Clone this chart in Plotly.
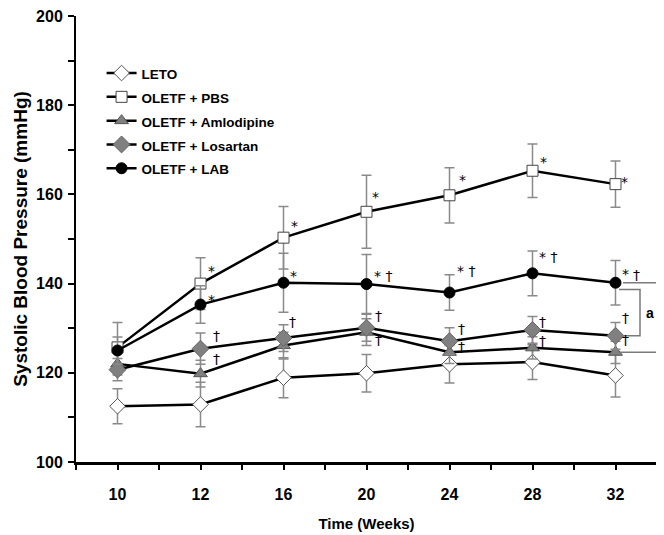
import plotly.graph_objects as go

# ---------------- data ----------------
weeks = ["10", "12", "16", "20", "24", "28", "32"]

leto = [112.5, 112.9, 118.9, 119.9, 121.9, 122.4, 119.4]
leto_err = [3.9, 5.0, 4.5, 4.2, 4.2, 3.9, 4.8]

pbs = [125.7, 140.0, 150.3, 156.1, 159.8, 165.3, 162.3]
pbs_err = [5.6, 5.8, 7.0, 8.2, 6.2, 6.0, 5.2]

aml = [122.0, 119.8, 126.1, 129.1, 124.6, 125.6, 124.6]
aml_err = [2.5, 3.0, 3.0, 3.0, 2.5, 2.5, 2.5]

los = [120.7, 125.4, 127.8, 130.1, 127.1, 129.6, 128.3]
los_err = [2.5, 3.5, 3.0, 3.0, 3.0, 3.0, 3.0]

lab = [125.0, 135.3, 140.2, 139.9, 138.0, 142.3, 140.2]
lab_err = [3.0, 4.2, 6.6, 6.6, 4.0, 5.0, 5.0]

series_names = ["LETO", "OLETF + PBS", "OLETF + Amlodipine", "OLETF + Losartan", "OLETF + LAB"]

# significance marks
pbs_marks = ["", "*", "*", "*", "*", "*", "*"]
lab_marks = ["", "*", "*", "* \u2020", "* \u2020", "* \u2020", "*"]
lab_marks2 = ["", "", "", "", "", "", "\u2020"]
los_marks = ["", "\u2020", "\u2020", "\u2020", "\u2020", "\u2020", "\u2020"]
aml_marks = ["", "\u2020", "", "\u2020", "\u2020", "\u2020", "\u2020"]

# ---------------- styling ----------------
FONT = "Liberation Sans, Arial, sans-serif"
MARK_FONT = "DejaVu Sans, Liberation Sans, sans-serif"
ERR_COLOR = "#8a8a8a"

# page body has an 8px default margin: figure is sized to fit the window
FIG_W, FIG_H = 656, 527
PLOT_L, PLOT_R = 68, 649      # plot area in figure pixels
PLOT_T, PLOT_B = 8, 454

xs = list(range(len(weeks)))

fig = go.Figure()

styles = [
    (leto, leto_err, dict(symbol="diamond", size=12, color="white", line=dict(color="#555555", width=1))),
    (pbs, pbs_err, dict(symbol="square", size=11, color="white", line=dict(color="#444444", width=1))),
    (aml, aml_err, dict(symbol="triangle-up", size=12, color="#808080", line=dict(color="#555555", width=1))),
    (los, los_err, dict(symbol="diamond", size=13, color="#808080", line=dict(color="#666666", width=1))),
    (lab, lab_err, dict(symbol="circle", size=11, color="black", line=dict(color="black", width=1))),
]

for name, (vals, errs, mk) in zip(series_names, styles):
    fig.add_trace(go.Scatter(
        x=xs, y=vals,
        name='<span style="font-size:13.5px">' + name + '</span>',
        mode="lines+markers",
        line=dict(color="black", width=2.5),
        marker=mk,
        error_y=dict(type="data", array=errs, visible=True, color=ERR_COLOR, thickness=1.5, width=5),
    ))

annotations = []


def add_marks(vals, marks, dx, dy):
    for i, (v, m) in enumerate(zip(vals, marks)):
        if not m:
            continue
        annotations.append(dict(
            x=xs[i], y=v, xref="x", yref="y", text=m, showarrow=False,
            xanchor="left", yanchor="middle", xshift=dx[i], yshift=dy[i],
            font=dict(family=MARK_FONT, size=14, color="black"),
        ))


add_marks(pbs, pbs_marks, [0, 5, 5, 3, 7, 5, 3], [0, 13, 12, 15, 15, 9, 2])
add_marks(lab, lab_marks, [0, 5, 4, 5, 5, 4, 4], [0, 5, 7, 8, 22, 16, 9])
add_marks(lab, lab_marks2, [0, 0, 0, 0, 0, 0, 15], [0, 0, 0, 0, 0, 0, 8])
add_marks(los, los_marks, [0, 10, 3, 6, 6, 4, 4], [0, 13, 16, 12, 12, 8, 18])
add_marks(aml, aml_marks, [0, 10, 0, 6, 6, 4, 4], [0, 15, 0, -8, 5, 7, 12])


# bracket "a" (x in paper units, y tied to data)
def px_to_paper(px):
    # px given in window pixels (figure offset by the 8px page margin)
    return (px - 8 - PLOT_L) / float(PLOT_R - PLOT_L)


last = len(weeks) - 1
outer = "M {a},{y1} L {b},{y1} L {b},{y2} L {c},{y2}".format(
    a=px_to_paper(623), b=px_to_paper(661), c=px_to_paper(620), y1=lab[last], y2=aml[last])
inner = "M {a},{y1} L {b},{y1} L {b},{y2} L {c},{y2}".format(
    a=px_to_paper(619), b=px_to_paper(640), c=px_to_paper(622), y1=lab[last] - 1.5, y2=los[last])
shapes = [
    dict(type="path", path=outer, xref="paper", yref="y", line=dict(color="#7a7a7a", width=1.5)),
    dict(type="path", path=inner, xref="paper", yref="y", line=dict(color="#7a7a7a", width=1.5)),
]
annotations.append(dict(
    x=px_to_paper(650), y=(lab[last] + los[last]) / 2, xref="paper", yref="y", text="<b>a</b>",
    showarrow=False, xanchor="center", yanchor="middle", yshift=-4,
    font=dict(family=FONT, size=14, color="black"),
))

fig.update_layout(
    width=FIG_W, height=FIG_H,
    margin=dict(l=PLOT_L, r=FIG_W - PLOT_R, t=PLOT_T, b=FIG_H - PLOT_B),
    plot_bgcolor="white", paper_bgcolor="white",
    showlegend=True,
    legend=dict(
        x=0.044, y=0.91, xanchor="left", yanchor="top",
        font=dict(family=FONT, size=16, color="black", weight="bold"),
        bgcolor="rgba(0,0,0,0)", tracegroupgap=0,
    ),
    xaxis=dict(
        range=[-0.5, 6.5], tickmode="array", tickvals=xs, ticktext=weeks,
        automargin=False, ticklabeloverflow="allow",
        showline=True, linecolor="black", linewidth=2.5, mirror=False,
        ticks="outside", ticklen=5, tickwidth=1.5, tickcolor="black",
        minor=dict(tickmode="array", tickvals=[x - 0.5 for x in xs] + [xs[-1] + 0.5],
                   ticks="outside", ticklen=5, tickwidth=1.5, tickcolor="black"),
        ticklabelstandoff=11,
        showgrid=False, zeroline=False,
        tickfont=dict(family=FONT, size=16, color="black", weight="bold"),
        title=dict(text="Time (Weeks)", standoff=17,
                   font=dict(family=FONT, size=15, color="black", weight="bold")),
    ),
    yaxis=dict(
        range=[100, 200], tickmode="array", tickvals=[100, 120, 140, 160, 180, 200],
        automargin=False, ticklabeloverflow="allow",
        showline=True, linecolor="black", linewidth=2, mirror=False,
        ticks="outside", ticklen=6, tickwidth=1.5, tickcolor="black",
        minor=dict(tickmode="array", tickvals=[110, 130, 150, 170, 190],
                   ticks="outside", ticklen=6, tickwidth=1.5, tickcolor="black"),
        ticklabelstandoff=2,
        showgrid=False, zeroline=False,
        tickfont=dict(family=FONT, size=16, color="black", weight="bold"),
        title=dict(text="Systolic Blood Pressure (mmHg)", standoff=3,
                   font=dict(family=FONT, size=19, color="black", weight="bold")),
    ),
    shapes=shapes,
    annotations=annotations,
)

fig.write_html("out.html")
